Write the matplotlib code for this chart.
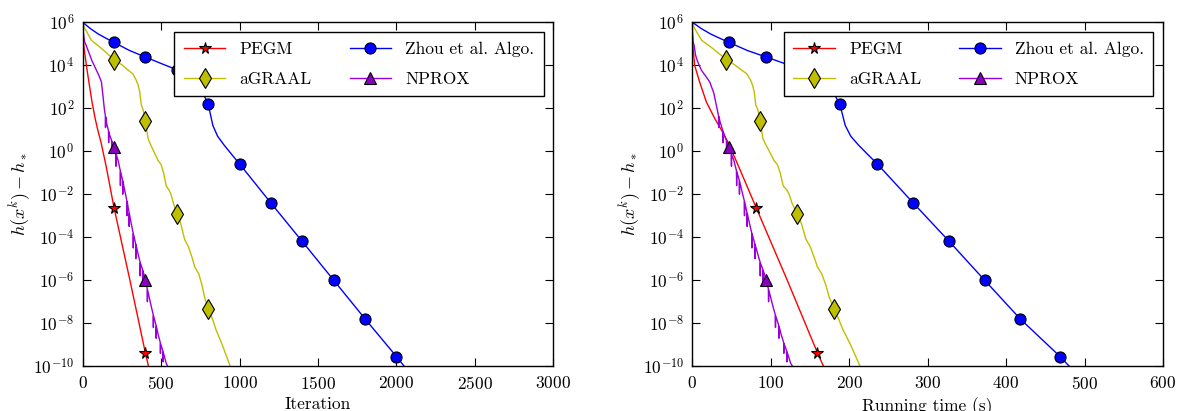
import numpy as np
import matplotlib
matplotlib.use("Agg")
import matplotlib.pyplot as plt
from matplotlib.ticker import NullLocator

plt.rcParams['font.family'] = 'serif'
plt.rcParams['font.serif'] = ['cmr10']
plt.rcParams['mathtext.fontset'] = 'cm'
plt.rcParams['axes.formatter.use_mathtext'] = True
plt.rcParams['axes.unicode_minus'] = False
plt.rcParams['xtick.direction'] = 'in'
plt.rcParams['ytick.direction'] = 'in'
plt.rcParams['xtick.top'] = True
plt.rcParams['ytick.right'] = True

# Convergence records: iteration, running time (s), log10 of h(x^k) - h_*
pegm_iter = [0, 10, 24, 40, 60, 80, 97, 118, 150, 200, 300, 400, 423]
pegm_time = [0, 1.2, 3.0, 9.4, 18, 28.7, 37.3, 46, 59, 81.4, 120.5, 159.6, 168.5]
pegm_log_gap = [5.5, 4.75, 4.0, 3.22, 2.29, 1.52, 0.98, 0.39, -0.7, -2.62, -5.95, -9.38, -10.1]

agraal_iter = [0, 14, 56, 120, 200, 250, 290, 320, 342, 355, 364, 374, 385, 400,
               417, 428, 450, 468, 480, 500, 516, 533, 550, 563, 580, 600, 625,
               650, 675, 700, 714, 740, 760, 777, 800, 825, 850, 870, 895, 920, 946]
agraal_time = [0, 3, 12, 26, 43.6, 54, 63, 69.5, 74.5, 77, 79, 81, 83.5, 86.6,
               90, 92.5, 97.5, 101.5, 104, 108.5, 112, 116, 120.5, 123.5, 127.5, 133.5, 139,
               145, 150.5, 156, 159.5, 165, 170, 174.5, 180.9, 186, 192, 197, 203, 209, 215]
agraal_log_gap = [6.0, 5.71, 5.16, 4.78, 4.26, 4.02, 3.77, 3.6, 3.3, 3.05, 2.76, 2.14, 1.95, 1.39,
                  0.6, 0.39, 0.05, -0.23, -0.42, -0.62, -1.0, -1.62, -1.8, -2.0, -2.45, -2.9, -3.35,
                  -4.1, -4.45, -5.0, -5.38, -5.7, -6.2, -6.78, -7.36, -7.75, -8.3, -8.65, -9.1, -9.6, -10.1]

zhou_iter = [0, 50, 100, 150, 200, 300, 400, 500, 600, 650, 700, 740, 770, 800,
             815, 830, 860, 900, 950, 1000, 1200, 1400, 1600, 1800, 2000, 2060]
zhou_time = [0, 11.7, 23.5, 35.2, 46.9, 70.5, 94.2, 117.6, 141, 152.8, 164.5, 174, 181, 188,
             191.5, 195, 202, 211.5, 223.6, 235.8, 281.7, 327.6, 372.6, 418, 468.8, 483]
zhou_log_gap = [6.0, 5.7, 5.45, 5.25, 5.06, 4.68, 4.38, 4.08, 3.79, 3.6, 3.35, 3.0, 2.65, 2.2,
                1.7, 1.2, 0.7, 0.3, -0.15, -0.59, -2.41, -4.2, -6.0, -7.8, -9.55, -10.1]

nprox_iter = [0, 12, 24, 46, 60, 88, 105, 120, 128, 138, 145, 146, 147, 151, 165, 166, 167,
              173, 185, 186, 187, 200, 212, 213, 214, 226, 240, 241, 242, 255, 256, 257,
              268, 282, 283, 284, 296, 297, 298, 310, 322, 323, 324, 338, 339, 340,
              353, 366, 367, 368, 382, 383, 384, 400, 412, 413, 414, 438, 450, 451, 452,
              468, 469, 470, 480, 495, 496, 497, 512, 513, 514, 533, 548]
nprox_time = [0, 1.0, 2.5, 4.2, 6.5, 11.6, 17, 22.3, 27.5, 31.5, 33.5, 33.8, 34.1, 35.5, 39, 39.3, 39.6,
              41, 43.5, 43.8, 44.1, 46.9, 49.7, 50, 50.2, 53, 56.3, 56.6, 56.8, 59.9, 60.2, 60.4,
              63, 66.3, 66.6, 66.8, 69.7, 70, 70.2, 73, 75.8, 76.1, 76.3, 79.7, 80, 80.2,
              83.3, 86.4, 86.7, 86.9, 90, 90.3, 90.5, 94.2, 97, 97.3, 97.5, 103, 105.8, 106.1, 106.3,
              110.2, 110.5, 110.7, 113, 116.5, 116.8, 117, 120.5, 120.8, 121, 125.5, 129.5]
nprox_log_gap = [5.8, 5.1, 4.9, 4.47, 4.2, 3.77, 3.5, 3.22, 2.7, 2.0, 1.65, 1.1, 1.6, 1.36, 0.95, 0.4, 0.9,
                 0.74, 0.5, -0.1, 0.45, 0.2, -0.1, -0.7, -0.15, -0.42, -0.9, -1.6, -0.95, -1.35, -2.0, -1.4,
                 -1.81, -2.3, -3.0, -2.35, -2.85, -3.5, -2.9, -3.37, -3.8, -4.5, -3.85, -4.3, -5.0, -4.35,
                 -4.76, -5.15, -5.8, -5.2, -5.5, -6.1, -5.55, -5.97, -6.4, -7.0, -6.45, -7.24, -7.6, -8.2, -7.65,
                 -8.1, -8.7, -8.15, -8.48, -8.9, -9.4, -8.95, -9.3, -9.8, -9.35, -9.87, -10.1]

methods = [
    ('PEGM', pegm_iter, pegm_time, pegm_log_gap, 'r', '*', 'r', 8.5),
    ('aGRAAL', agraal_iter, agraal_time, agraal_log_gap, 'y', 'd', 'y', 10),
    ('Zhou et al. Algo.', zhou_iter, zhou_time, zhou_log_gap, 'b', 'o', 'b', 8),
    ('NPROX', nprox_iter, nprox_time, nprox_log_gap, '#9b00d9', '^', '#8a00c0', 8.5),
]

fig, axes = plt.subplots(1, 2, figsize=(11.8, 4.11), dpi=100)
fig.subplots_adjust(left=0.07, right=0.9856, bottom=0.109, top=0.946, wspace=0.295)

for k, ax in enumerate(axes):
    for name, its, ts, lg, color, mk, mfc, ms in methods:
        its = np.array(its)
        xs = its if k == 0 else np.array(ts)
        # markers every 200 iterations
        marks = [i for i, it in enumerate(its) if it > 0 and it % 200 == 0]
        ax.plot(xs, 10.0 ** np.array(lg), color=color, lw=1.0, marker=mk,
                markevery=marks, markersize=ms, markerfacecolor=mfc,
                markeredgecolor='k', markeredgewidth=0.8, label=name)
    ax.set_yscale('log')
    ax.set_ylim(1e-10, 1e6)
    ax.set_yticks([10.0 ** e for e in range(-10, 7, 2)])
    ax.yaxis.set_minor_locator(NullLocator())
    ax.tick_params(labelsize=12.5, length=6, width=0.8, pad=6)
    ax.set_ylabel(r'$h(x^k) - h_*$', fontsize=13, labelpad=0)
    for s in ax.spines.values():
        s.set_linewidth(1.0)
    leg = ax.legend(loc='upper right', ncol=2, fontsize=12.5, numpoints=1,
                    handlelength=2.4, handletextpad=0.8, columnspacing=2.2,
                    labelspacing=0.85, borderpad=0.55,
                    borderaxespad=0.55, fancybox=False, framealpha=1.0)
    leg.get_frame().set_edgecolor('k')
    leg.get_frame().set_linewidth(1.0)

axes[0].set_xlim(0, 3000)
axes[0].set_xlabel('Iteration', fontsize=12.5)
axes[1].set_xlim(0, 600)
axes[1].set_xlabel('Running time (s)', fontsize=12.5)

fig.savefig('out.png', dpi=100)
